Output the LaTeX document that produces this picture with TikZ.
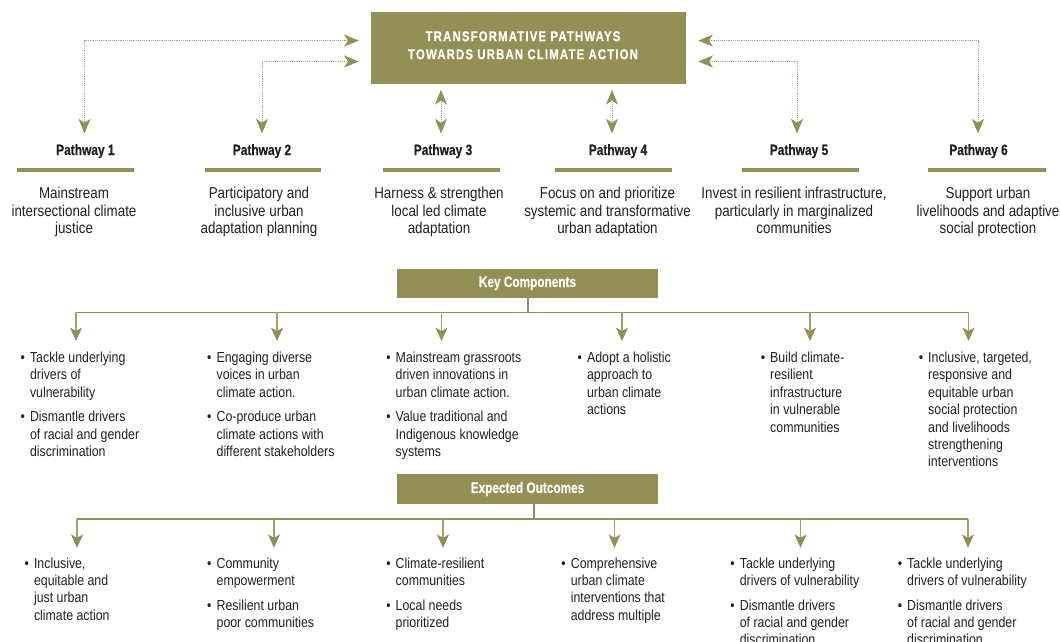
\documentclass[tikz,border=0pt]{standalone}
\usepackage{fontspec}
\setmainfont{Liberation Sans}[FakeStretch=0.85]
\newfontfamily\titlefont{Liberation Sans}[FakeStretch=0.8,LetterSpace=8,BoldFeatures={FakeBold=0.6}]
\newfontfamily\headfont{Liberation Sans}[FakeStretch=0.8,BoldFeatures={FakeBold=0.4}]
\newfontfamily\secfont{Liberation Sans}[FakeStretch=0.77,BoldFeatures={FakeBold=0.4}]
\usetikzlibrary{arrows.meta,calc}
\definecolor{olv}{HTML}{948F54}
\definecolor{dotc}{HTML}{ABA679}
\definecolor{txt}{HTML}{231F20}
\newcommand{\bl}{\makebox[7.1pt][l]{•}}
\begin{document}
\begin{tikzpicture}[x=0.75pt,y=-0.75pt,
  titlebox/.style={fill=olv, inner sep=0, minimum width=236.25pt, minimum height=54pt},
  titletext/.style={text=white, inner sep=0, anchor=base, font=\titlefont\fontsize{10.7}{13.5}\selectfont\bfseries},
  secbox/.style={fill=olv, text=white, inner sep=0, minimum width=195.75pt, minimum height=22.1pt, font=\secfont\fontsize{11.5}{12}\selectfont\bfseries},
  head/.style={text=txt, inner sep=0, anchor=base, font=\headfont\fontsize{11.2}{12}\selectfont\bfseries},
  desc/.style={text=txt, inner sep=0, anchor=base, font=\fontsize{11.8}{13.1}\selectfont},
  bul/.style={text=txt, inner sep=0, anchor=base west, font=\fontsize{10.9}{13.05}\selectfont},
  bar/.style={draw=olv, line width=3.3pt},
  dotarr/.style={draw=dotc, line width=0.75pt, dash pattern=on 0.6pt off 0.8pt,
     {Stealth[length=11pt,width=9pt,inset=3pt,color=olv]}-{Stealth[length=11pt,width=9pt,inset=3pt,color=olv]}},
  conn/.style={draw=olv, line width=0.9pt},
  connarr/.style={draw=olv!85, line width=0.8pt, -{Stealth[length=10pt,width=9pt,inset=2.5pt,color=olv]}}
]
\useasboundingbox (0,0) rectangle (1060,642);

% title
\node[titlebox] (title) at (528.5,48) {};
\node[titletext] (titlet) at (523,41.2) {\begin{tabular}[t]{@{}c@{}}TRANSFORMATIVE PATHWAYS\\TOWARDS URBAN CLIMATE ACTION\end{tabular}};

% pathway headings
\node[head] (p1) at (85.4,155) {Pathway 1};
\node[head] (p2) at (262,155) {Pathway 2};
\node[head] (p3) at (443,155) {Pathway 3};
\node[head] (p4) at (618,155) {Pathway 4};
\node[head] (p5) at (799,155) {Pathway 5};
\node[head] (p6) at (978.5,155) {Pathway 6};

% bars
\draw[bar] (17,170) -- (133.5,170);
\draw[bar] (204.5,170) -- (321,170);
\draw[bar] (383,170) -- (500,170);
\draw[bar] (555,170) -- (672,170);
\draw[bar] (742,170) -- (859,170);
\draw[bar] (928,170) -- (1045.5,170);

% descriptions
\node[desc] (d1) at (74,198.8) {\begin{tabular}[t]{@{}c@{}}Mainstream\\intersectional climate\\justice\end{tabular}};
\node[desc] (d2) at (259,198.8) {\begin{tabular}[t]{@{}c@{}}Participatory and\\inclusive urban\\adaptation planning\end{tabular}};
\node[desc] (d3) at (439,198.8) {\begin{tabular}[t]{@{}c@{}}Harness \& strengthen\\local led climate\\adaptation\end{tabular}};
\node[desc] (d4) at (607.5,198.8) {\begin{tabular}[t]{@{}c@{}}Focus on and prioritize\\systemic and transformative\\urban adaptation\end{tabular}};
\node[desc] (d5) at (794,198.8) {\begin{tabular}[t]{@{}c@{}}Invest in resilient infrastructure,\\particularly in marginalized\\communities\end{tabular}};
\node[desc] (d6) at (988,198.8) {\begin{tabular}[t]{@{}c@{}}Support urban\\livelihoods and adaptive\\social protection\end{tabular}};

% dotted connectors
\coordinate (t1) at (84.5,133.5);
\coordinate (t2) at (262,133.5);
\coordinate (t3) at (441,133.5);
\coordinate (t4) at (612,133.5);
\coordinate (t5) at (797,133.5);
\coordinate (t6) at (978,133.5);
\draw[dotarr] (t1) |- ($(title.west)+(-12,-7.4)$);
\draw[dotarr] (t2) |- ($(title.west)+(-12,13.5)$);
\draw[dotarr] ($(title.south -| t3)+(0,5.6)$) -- (t3);
\draw[dotarr] ($(title.south -| t4)+(0,5.6)$) -- (t4);
\draw[dotarr] (t5) |- ($(title.east)+(12,13.5)$);
\draw[dotarr] (t6) |- ($(title.east)+(12,-7.4)$);

% key components
\node[secbox] (kc) at (527.5,283.25) {Key Components};
\coordinate (kbus) at (528,312.4);
\coordinate (k1) at (76,341);
\coordinate (k2) at (277,341);
\coordinate (k3) at (441.5,341);
\coordinate (k4) at (622,341);
\coordinate (k5) at (810,341);
\coordinate (k6) at (968.5,341);
\draw[conn] (kbus |- kc.south) -- (kbus);
\draw[conn] (kbus -| k1) -- (kbus -| k6);
\foreach \i in {1,...,6} \draw[connarr] (kbus -| k\i) -- (k\i);

\node[bul] (kb1) at (20.3,362.4) {\begin{tabular}[t]{@{}l@{}l@{}}\bl&Tackle underlying\\&drivers of\\&vulnerability\\[5.5pt]\bl&Dismantle drivers\\&of racial and gender\\&discrimination\end{tabular}};
\node[bul] (kb2) at (206.9,362.4) {\begin{tabular}[t]{@{}l@{}l@{}}\bl&Engaging diverse\\&voices in urban\\&climate action.\\[5.5pt]\bl&Co-produce urban\\&climate actions with\\&different stakeholders\end{tabular}};
\node[bul] (kb3) at (386,362.4) {\begin{tabular}[t]{@{}l@{}l@{}}\bl&Mainstream grassroots\\&driven innovations in\\&urban climate action.\\[5.5pt]\bl&Value traditional and\\&Indigenous knowledge\\&systems\end{tabular}};
\node[bul] (kb4) at (577.3,362.4) {\begin{tabular}[t]{@{}l@{}l@{}}\bl&Adopt a holistic\\&approach to\\&urban climate\\&actions\end{tabular}};
\node[bul] (kb5) at (760.5,362.4) {\begin{tabular}[t]{@{}l@{}l@{}}\bl&Build climate-\\&resilient\\&infrastructure\\&in vulnerable\\&communities\end{tabular}};
\node[bul] (kb6) at (918.5,362.4) {\begin{tabular}[t]{@{}l@{}l@{}}\bl&Inclusive, targeted,\\&responsive and\\&equitable urban\\&social protection\\&and livelihoods\\&strengthening\\&interventions\end{tabular}};

% expected outcomes
\node[secbox] (eo) at (527.5,489) {Expected Outcomes};
\coordinate (ebus) at (534,519);
\coordinate (e1) at (77,547.8);
\coordinate (e2) at (274,547.8);
\coordinate (e3) at (443,547.8);
\coordinate (e4) at (614.5,547.8);
\coordinate (e5) at (800.5,547.8);
\coordinate (e6) at (968,547.8);
\draw[conn] (ebus |- eo.south) -- (ebus);
\draw[conn] (ebus -| e1) -- (ebus -| e6);
\foreach \i in {1,...,6} \draw[connarr] (ebus -| e\i) -- (e\i);

\node[bul] (eb1) at (24.3,568) {\begin{tabular}[t]{@{}l@{}l@{}}\bl&Inclusive,\\&equitable and\\&just urban\\&climate action\end{tabular}};
\node[bul] (eb2) at (206.9,568) {\begin{tabular}[t]{@{}l@{}l@{}}\bl&Community\\&empowerment\\[5.5pt]\bl&Resilient urban\\&poor communities\end{tabular}};
\node[bul] (eb3) at (386,568) {\begin{tabular}[t]{@{}l@{}l@{}}\bl&Climate-resilient\\&communities\\[5.5pt]\bl&Local needs\\&prioritized\end{tabular}};
\node[bul] (eb4) at (561.1,568) {\begin{tabular}[t]{@{}l@{}l@{}}\bl&Comprehensive\\&urban climate\\&interventions that\\&address multiple\end{tabular}};
\node[bul] (eb5) at (730.1,568) {\begin{tabular}[t]{@{}l@{}l@{}}\bl&Tackle underlying\\&drivers of vulnerability\\[5.5pt]\bl&Dismantle drivers\\&of racial and gender\\&discrimination\end{tabular}};
\node[bul] (eb6) at (897.5,568) {\begin{tabular}[t]{@{}l@{}l@{}}\bl&Tackle underlying\\&drivers of vulnerability\\[5.5pt]\bl&Dismantle drivers\\&of racial and gender\\&discrimination\end{tabular}};
\end{tikzpicture}
\end{document}
